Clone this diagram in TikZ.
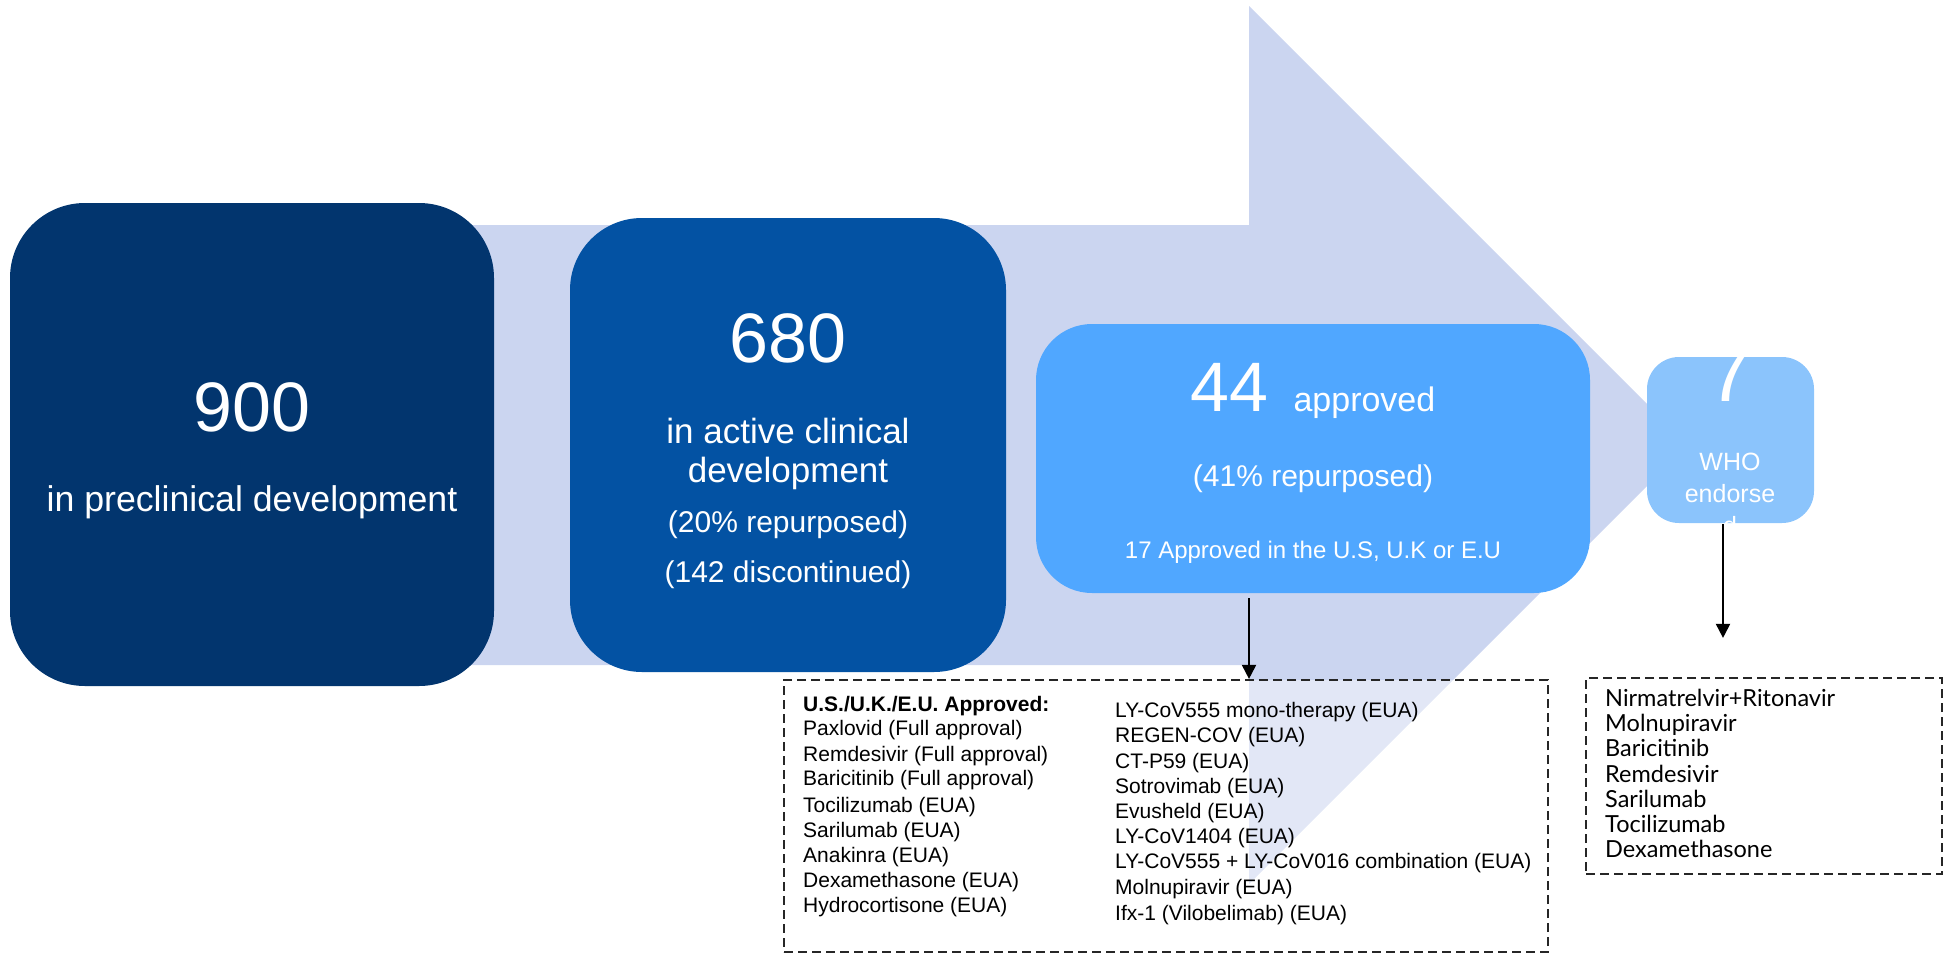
\documentclass[tikz,border=0pt]{standalone}
\usepackage{fontspec}
\setmainfont{Liberation Sans}
\newfontfamily\listfont{Lato}
\usetikzlibrary{arrows.meta}
\newcommand\fsz[1]{\fontsize{#1pt}{#1pt}\selectfont}
\definecolor{cone}{RGB}{2,53,110}
\definecolor{ctwo}{RGB}{3,82,163}
\definecolor{cthree}{RGB}{80,167,255}
\definecolor{cfour}{RGB}{139,196,252}
\definecolor{carrow}{RGB}{203,213,240}
\tikzset{
  stage/.style={rectangle, inner sep=0pt, draw=none},
  wt/.style={text=white, inner sep=0pt, anchor=base},
  lt/.style={text=black, inner sep=0pt, anchor=base west, font={\fsz{21}}},
  rt/.style={text=black, inner sep=0pt, anchor=base west, font={\listfont\fsz{23.5}}},
  dashbox/.style={rectangle, inner sep=0pt, draw=black!85, line width=2.2pt,
    dash pattern=on 9pt off 5pt, fill=white, fill opacity=0.45},
  conn/.style={draw=black, line width=2pt, -{Triangle[length=14pt,width=14pt]}}
}
\begin{document}
\begin{tikzpicture}[x=1pt,y=-1pt]
\useasboundingbox (0,0) rectangle (1952,954);
% big background arrow
\fill[carrow] (400,225) -- (1249,225) -- (1249,6) -- (1688,445) -- (1249,884) -- (1249,665) -- (400,665) -- cycle;
% stage boxes
\node[stage, fill=cone, minimum width=484pt, minimum height=483pt, rounded corners=75pt] (b1) at (252,444.5) {};
\node[stage, fill=ctwo, minimum width=436pt, minimum height=454pt, rounded corners=72pt] (b2) at (788,445) {};
\node[stage, fill=cthree, minimum width=554pt, minimum height=269pt, rounded corners=56pt] (b3) at (1313,458.5) {};
\node[stage, fill=cfour, minimum width=167pt, minimum height=166pt, rounded corners=32pt] (who) at (1730.5,440) {};
% box 1 text
\node[wt, font={\fsz{70}}] (t900) at (252,431) {900};
\node[wt, font={\fsz{35.7}}] (t900b) at (252,511) {in preclinical development};
% box 2 text
\node[wt, font={\fsz{70}}] (t680) at (788,362) {680};
\node[wt, font={\fsz{35}}] (t680a) at (788,443) {in active clinical};
\node[wt, font={\fsz{35}}] (t680b) at (788,482) {development};
\node[wt, font={\fsz{30}}] (t680c) at (788,532) {(20\% repurposed)};
\node[wt, font={\fsz{30}}] (t680d) at (788,582) {(142 discontinued)};
% box 3 text
\node[wt] (t44) at (1313,411) {{\fsz{70}44}\hspace{25pt}{\fsz{34}approved}};
\node[wt, font={\fsz{30}}] (t44b) at (1313,486) {(41\% repurposed)};
\node[wt, font={\fsz{24}}] (t44c) at (1313,558) {17 Approved in the U.S, U.K or E.U};
% WHO box text
\node[wt, font={\fsz{82}}] (t7) at (1730,401) {7};
\node[wt, font={\fsz{25}}] (twa) at (1730,470) {WHO};
\node[wt, font={\fsz{25}}] (twb) at (1730,502) {endorse};
\node[wt, font={\fsz{25}}] (twc) at (1730,534) {d};
% dashed list boxes
\node[dashbox, minimum width=764pt, minimum height=272pt] (lista) at (1166,816) {};
\node[dashbox, minimum width=356pt, minimum height=196pt] (listb) at (1764,776) {};
% list A left column
\node[lt, font={\bfseries\fsz{21}}] (la0) at (803,711) {U.S./U.K./E.U. Approved:};
\node[lt] (la1) at (803,735) {Paxlovid (Full approval)};
\node[lt] (la2) at (803,761) {Remdesivir (Full approval)};
\node[lt] (la3) at (803,785) {Baricitinib (Full approval)};
\node[lt] (la4) at (803,812) {Tocilizumab (EUA)};
\node[lt] (la5) at (803,837) {Sarilumab (EUA)};
\node[lt] (la6) at (803,862) {Anakinra (EUA)};
\node[lt] (la7) at (803,887) {Dexamethasone (EUA)};
\node[lt] (la8) at (803,912) {Hydrocortisone (EUA)};
% list A right column
\node[lt] (lb1) at (1115,717) {LY-CoV555 mono-therapy (EUA)};
\node[lt] (lb2) at (1115,742) {REGEN-COV (EUA)};
\node[lt] (lb3) at (1115,768) {CT-P59 (EUA)};
\node[lt] (lb4) at (1115,793) {Sotrovimab (EUA)};
\node[lt] (lb5) at (1115,818) {Evusheld (EUA)};
\node[lt] (lb6) at (1115,843) {LY-CoV1404 (EUA)};
\node[lt] (lb7) at (1115,868) {LY-CoV555 + LY-CoV016 combination (EUA)};
\node[lt] (lb8) at (1115,894) {Molnupiravir (EUA)};
\node[lt] (lb9) at (1115,920) {Ifx-1 (Vilobelimab) (EUA)};
% list B
\node[rt] (lc1) at (1605,706) {Nirmatrelvir+Ritonavir};
\node[rt] (lc2) at (1605,731) {Molnupiravir};
\node[rt] (lc3) at (1605,756) {Baricitinib};
\node[rt] (lc4) at (1605,782) {Remdesivir};
\node[rt] (lc5) at (1605,807) {Sarilumab};
\node[rt] (lc6) at (1605,832) {Tocilizumab};
\node[rt] (lc7) at (1605,857) {Dexamethasone};
% connectors
\coordinate (ax) at (1249,0);
\coordinate (wx) at (1723,0);
\draw[conn, shorten <=5pt] (b3.south -| ax) -- (lista.north -| ax);
\draw[conn, shorten <=1pt, shorten >=39pt] (who.south -| wx) -- (listb.north -| wx);
\end{tikzpicture}
\end{document}
